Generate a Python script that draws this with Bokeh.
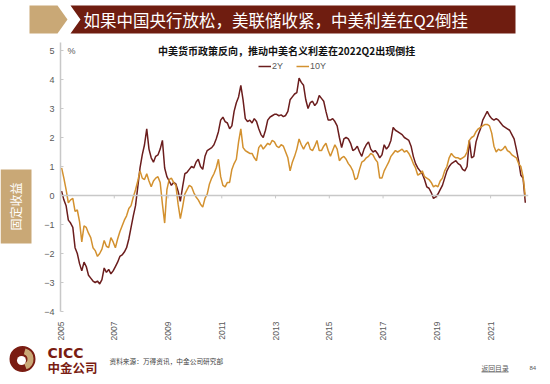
import numpy as np
from bokeh.plotting import figure
from bokeh.models import Range1d, FixedTicker, Span, Legend, LegendItem, Label
from bokeh.layouts import column, row
from bokeh.embed import file_html
from bokeh.resources import INLINE
from bokeh.core.properties import value

# ---------------- data (monthly, Jan 2005 - Apr 2022, %) ----------------
start_year = 2005
spread_2y = [
    0.15, -0.15, -0.35, -0.85, -0.95, -1.1, -1.8, -2.0, -2.35, -2.6, -2.3, -2.45,   # 2005
    -2.75, -2.85, -2.95, -3.0, -2.95, -3.05, -2.9, -2.5, -2.65, -2.55, -2.7, -2.6,  # 2006
    -2.45, -2.3, -2.1, -2.05, -1.95, -1.8, -1.5, -1.1, -0.7, -0.35, 0.3, 0.95,      # 2007
    1.4, 1.75, 2.3, 1.6, 1.3, 1.15, 1.35, 1.4, 1.6, 1.9, 0.95, 0.65,                # 2008
    0.5, 0.35, 0.45, 0.4, 0.15, -0.2, 0.3, 0.75, 0.8, 0.9, 1.0, 0.95,               # 2009
    1.15, 1.25, 1.0, 0.9, 1.35, 1.55, 1.6, 1.65, 1.75, 1.95, 2.2, 2.6,              # 2010
    2.7, 2.55, 2.5, 2.3, 2.4, 2.9, 3.2, 3.4, 3.8, 3.3, 2.65, 2.55,                  # 2011
    2.6, 2.5, 2.65, 2.55, 2.3, 2.1, 2.0, 2.25, 2.6, 2.7, 2.75, 2.8,                 # 2012
    2.8, 2.75, 2.78, 2.72, 2.76, 2.9, 3.3, 3.4, 3.5, 3.55, 4.05, 3.9,               # 2013
    3.8, 3.3, 3.0, 3.2, 3.25, 3.1, 3.2, 3.45, 3.35, 3.25, 2.9, 2.6,                 # 2014
    2.6, 2.65, 2.55, 2.4, 2.0, 1.65, 1.95, 2.0, 1.95, 1.8, 1.55, 1.6,               # 2015
    1.7, 1.5, 1.35, 1.6, 1.75, 1.85, 1.6, 1.5, 1.55, 1.45, 1.3, 1.4,                # 2016
    1.75, 1.6, 1.7, 1.9, 2.35, 2.25, 2.2, 2.15, 2.1, 2.0, 1.95, 1.9,                # 2017
    1.7, 1.35, 1.1, 0.95, 0.85, 0.75, 0.55, 0.3, 0.25, 0.1, -0.1, -0.05,            # 2018
    0.05, 0.2, 0.35, 0.6, 0.85, 1.0, 1.1, 1.15, 1.2, 1.1, 1.05, 0.9,                # 2019
    0.85, 1.0, 1.9, 1.3, 1.35, 1.85, 2.1, 2.3, 2.6, 2.75, 2.9, 2.75,                # 2020
    2.65, 2.6, 2.65, 2.6, 2.5, 2.4, 2.35, 2.3, 2.25, 2.1, 1.95, 1.6,                # 2021
    1.2, 0.7, 0.6, -0.25,                                                           # 2022
]
spread_10y = [
    0.95, 0.6, 0.2, -0.25, -0.15, -0.1, -0.55, -0.5, -0.9, -1.6, -1.05, -1.1,       # 2005
    -1.3, -1.45, -1.8, -1.9, -2.1, -2.0, -1.85, -1.55, -1.75, -1.8, -1.45, -1.6,    # 2006
    -1.8, -1.5, -1.25, -1.05, -0.85, -0.7, -0.45, -0.35, -0.05, 0.2, 0.5, 0.85,     # 2007
    0.6, 0.55, 0.75, 0.5, 0.3, 0.5, 0.6, 0.65, 0.45, -0.3, -0.95, 0.2,              # 2008
    0.55, 0.6, 0.45, 0.35, -0.3, -0.8, -0.4, 0.05, 0.2, 0.35, 0.3, 0.1,             # 2009
    -0.05, -0.15, -0.3, -0.4, -0.1, 0.05, 0.4, 0.6, 0.75, 0.95, 1.25, 0.65,         # 2010
    0.35, 0.3, 0.45, 0.45, 0.9, 1.1, 1.25, 1.85, 2.3, 1.65, 1.55, 1.5,              # 2011
    1.45, 1.45, 1.3, 1.2, 1.65, 1.75, 1.6, 1.7, 1.8, 1.75, 1.9, 1.85,               # 2012
    1.7, 1.65, 1.75, 1.7, 1.5, 1.3, 0.85, 1.15, 1.35, 1.6, 1.95, 1.75,              # 2013
    1.6, 1.75, 1.85, 1.6, 1.55, 1.7, 1.9, 1.55, 1.55, 1.7, 1.8, 1.55,               # 2014
    1.35, 1.55, 1.75, 1.6, 1.2, 1.3, 1.35, 1.25, 1.1, 1.0, 0.85, 0.55,              # 2015
    0.6, 0.9, 1.15, 1.2, 1.3, 1.35, 1.45, 1.4, 1.25, 1.15, 0.6, 0.6,                # 2016
    0.85, 1.0, 1.15, 1.35, 1.45, 1.55, 1.5, 1.55, 1.6, 1.5, 1.55, 1.45,             # 2017
    1.3, 1.1, 0.95, 0.7, 0.75, 0.85, 0.65, 0.6, 0.55, 0.45, 0.3, 0.35,              # 2018
    0.3, 0.5, 0.6, 0.85, 1.0, 1.3, 1.45, 1.35, 1.3, 1.3, 1.25, 1.3,                 # 2019
    1.35, 1.5, 1.9, 2.0, 2.05, 2.2, 2.3, 2.35, 2.4, 2.45, 2.45, 2.4,                # 2020
    2.15, 1.7, 1.5, 1.6, 1.55, 1.6, 1.7, 1.55, 1.5, 1.4, 1.35, 1.3,                 # 2021
    1.1, 1.0, 0.65, -0.05,                                                          # 2022
]
series_names = ["2Y", "10Y"]
x_ticks = [2005, 2007, 2009, 2011, 2013, 2015, 2017, 2019, 2021]
y_ticks = [-4, -3, -2, -1, 0, 1, 2, 3, 4, 5]

title_text = "如果中国央行放松，美联储收紧，中美利差在Q2倒挂"
subtitle_text = "中美货币政策反向，推动中美名义利差在2022Q2出现倒挂"
side_text = "固定收益"
source_text = "资料来源：万得资讯，中金公司研究部"

# ---------------- styles ----------------
C2 = "#6b1d1d"
C10 = "#d3912f"
DARK = "#6f1d10"
TAN = "#c9a876"
GRAY_AX = "#c8c8c8"
GRAY_TXT = "#595959"
CJK = "Noto Sans CJK SC"
LAT = "Liberation Sans"

months = np.arange(len(spread_2y))
xs = start_year + (months + 0.5) / 12.0


def deco(width, height, x0, y0):
    f = figure(width=width, height=height,
               x_range=Range1d(x0, x0 + width), y_range=Range1d(-(y0 + height), -y0),
               output_backend="svg", toolbar_location=None,
               x_axis_location=None, y_axis_location=None,
               min_border=0, min_border_left=0, min_border_right=0,
               min_border_top=0, min_border_bottom=0)
    f.grid.visible = False
    f.outline_line_color = None
    f.background_fill_color = "white"
    f.border_fill_color = "white"
    return f


# ---------------- banner (page y 0..40) ----------------
banner = deco(550, 40, 0, 0)
banner.patch([29, 57, 67, 57, 29], [-5, -5, -19, -33, -33], color=TAN, line_width=0)
banner.patch([70, 515, 515, 70, 80], [-5, -5, -33, -33, -19], color=DARK, line_width=0)
banner.text(x=[83], y=[-19.5], text=[title_text], text_font=value(CJK),
            text_font_size=value("16.5px"), text_color="white",
            text_align="left", text_baseline="middle")

# ---------------- side bar (page x 0..40, y 40..345) ----------------
side = deco(40, 305, 0, 40)
side.quad(left=[0], right=[31], top=[-184], bottom=[-268], color=TAN, line_width=0)
side.text(x=[14.5], y=[-226], text=[side_text], angle=np.pi / 2, text_font=value(CJK),
          text_font_size=value("12px"), text_color="white",
          text_align="center", text_baseline="middle")

# ---------------- chart (page x 40..550, y 40..345) ----------------
p = figure(width=510, height=305, x_range=Range1d(2005, 2022.41), y_range=Range1d(-4, 5.276),
           output_backend="svg", toolbar_location=None,
           min_border_left=20, min_border_right=22, min_border_top=2, min_border_bottom=34)
p.grid.visible = False
p.outline_line_color = None

p.yaxis.ticker = FixedTicker(ticks=y_ticks)
p.yaxis.axis_line_color = GRAY_AX
p.yaxis.axis_line_width = 1.5
p.yaxis.major_tick_line_color = GRAY_AX
p.yaxis.major_tick_in = 3
p.yaxis.major_tick_out = 0
p.yaxis.minor_tick_line_color = None
p.yaxis.major_label_standoff = 6
p.yaxis.major_label_text_font = LAT
p.yaxis.major_label_text_font_size = "9px"
p.yaxis.major_label_text_color = GRAY_TXT

p.xaxis.ticker = FixedTicker(ticks=x_ticks)
p.xaxis.axis_line_color = None
p.xaxis.major_tick_line_color = None
p.xaxis.minor_tick_line_color = None
p.xaxis.major_label_orientation = np.pi / 2
p.xaxis.major_label_standoff = 4
p.xaxis.major_label_text_font = LAT
p.xaxis.major_label_text_font_size = "8.5px"
p.xaxis.major_label_text_color = GRAY_TXT

p.add_layout(Span(location=0, dimension="width", line_color=GRAY_AX, line_width=1.5))
p.segment(x0=x_ticks, y0=[0] * len(x_ticks), x1=x_ticks, y1=[-0.1] * len(x_ticks),
          line_color=GRAY_AX, line_width=1)

r2 = p.line(xs, spread_2y, line_color=C2, line_width=1.5)
r10 = p.line(xs, spread_10y, line_color=C10, line_width=1.5)

legend = Legend(items=[LegendItem(label=series_names[0], renderers=[r2]),
                       LegendItem(label=series_names[1], renderers=[r10])],
                orientation="horizontal", location=(198, 239),
                label_text_font=LAT, label_text_font_size="9px", label_text_color=GRAY_TXT,
                glyph_width=13, glyph_height=12, label_height=12, label_standoff=1,
                spacing=4, padding=0, margin=0,
                border_line_color=None, background_fill_alpha=0)
p.add_layout(legend)

p.add_layout(Label(x=2013.41, y=5, text=subtitle_text, text_align="center",
                   text_baseline="middle", text_font=CJK, text_font_size="10px",
                   text_font_style="bold", text_color="#111111"))
p.add_layout(Label(x=2005.26, y=5, text="%", text_align="left", text_baseline="middle",
                   text_font=LAT, text_font_size="9px", text_color=GRAY_TXT))

# ---------------- footer (page y 345..384) ----------------
foot = deco(550, 39, 0, 345)
foot.circle(x=[22], y=[-358.5], radius=13, color="#7a1c12", line_width=0)
foot.annular_wedge(x=[22], y=[-358.5], inner_radius=5, outer_radius=11,
                   start_angle=-1.2, end_angle=1.3, color=TAN, line_width=0)
foot.circle(x=[21], y=[-360], radius=4.5, color="white", line_width=0)
foot.text(x=[47], y=[-352.5], text=["CICC"], text_font=value("DejaVu Sans"),
          text_font_size=value("14px"), text_font_style="bold", text_color="#7a1c12",
          text_align="left", text_baseline="middle")
foot.text(x=[47], y=[-366.5], text=["中金公司"], text_font=value(CJK),
          text_font_size=value("12.5px"), text_font_style="bold", text_color="#7a1c12",
          text_align="left", text_baseline="middle")
foot.text(x=[109], y=[-360], text=[source_text], text_font=value(CJK),
          text_font_size=value("6.7px"), text_color="#404040",
          text_align="left", text_baseline="middle")
foot.text(x=[481], y=[-367], text=["返回目录"], text_font=value(CJK),
          text_font_size=value("6.8px"), text_color=GRAY_TXT,
          text_align="left", text_baseline="middle")
foot.segment(x0=[481], y0=[-371.5], x1=[508], y1=[-371.5], line_color=GRAY_TXT, line_width=0.7)
foot.text(x=[529], y=[-367], text=["84"], text_font=value(LAT),
          text_font_size=value("6px"), text_color=GRAY_TXT,
          text_align="left", text_baseline="middle")

layout = column(banner, row(side, p), foot)
open("out.html", "w").write(file_html(layout, INLINE))
